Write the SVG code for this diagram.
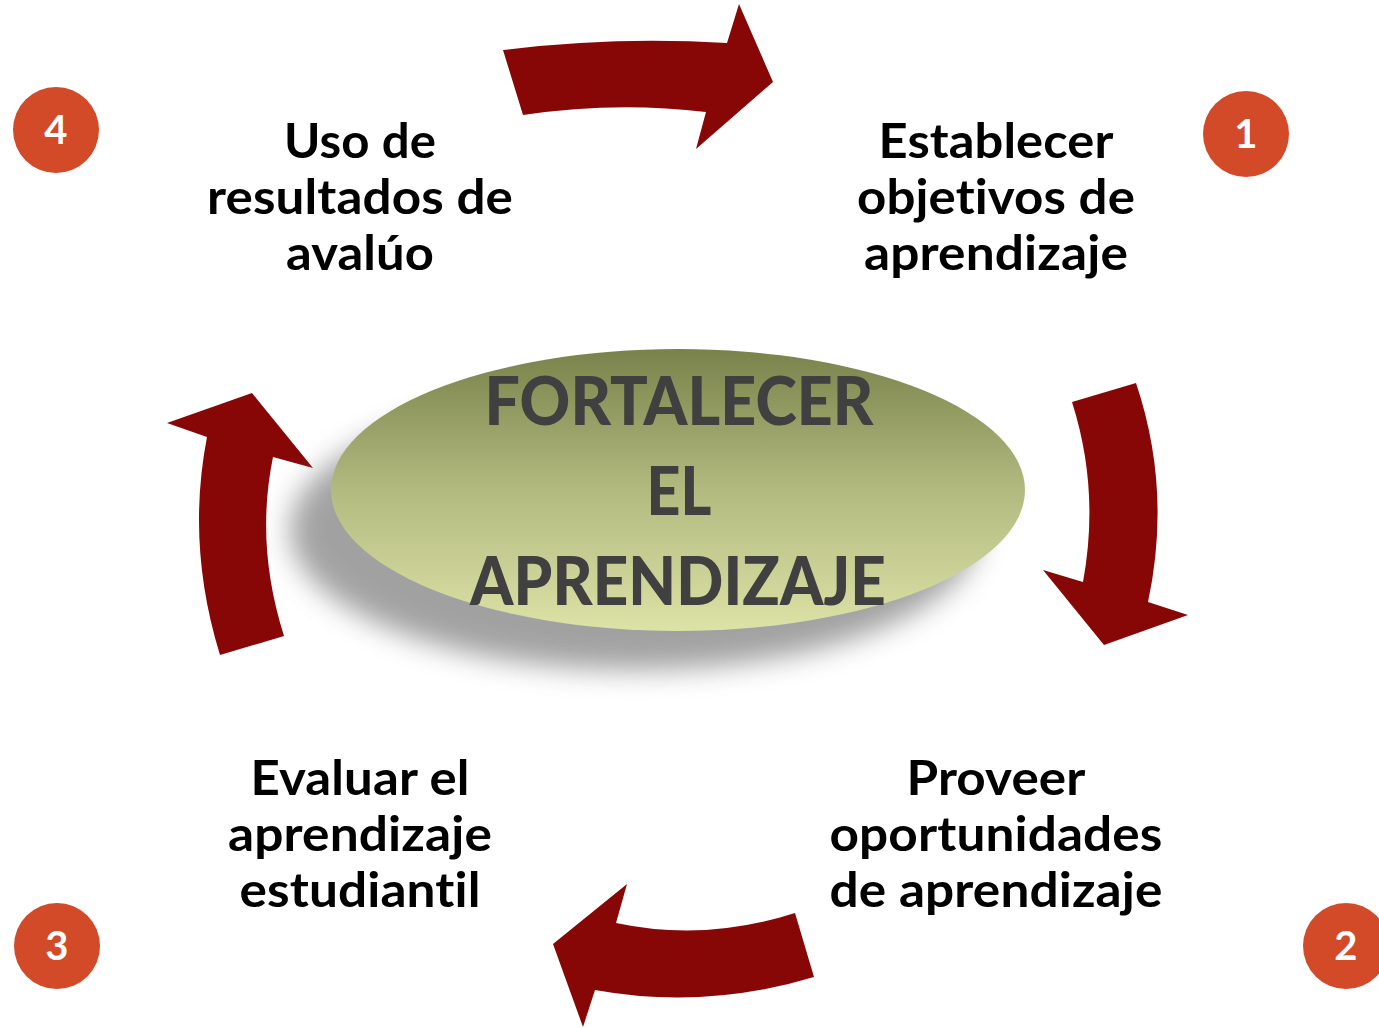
<svg xmlns="http://www.w3.org/2000/svg" width="1379" height="1028" viewBox="0 0 1379 1028">
<style>
text{font-variant-ligatures:none;font-feature-settings:"liga" 0,"clig" 0,"calt" 0,"dlig" 0;letter-spacing:0.1px}
.arrow{fill:#870707}
.badge{fill:#d24a28}
.num{font-family:Lato,"Open Sans",sans-serif;font-weight:bold;font-size:40px;fill:#ffffff;text-anchor:middle}
.lbl{font-family:Lato,"Open Sans",sans-serif;font-weight:bold;font-size:47px;fill:#000000;text-anchor:middle}
.ctr{font-family:Lato,"Open Sans",sans-serif;font-weight:900;font-size:66px;fill:#404040;text-anchor:middle}
</style>
<defs>
<linearGradient id="g" x1="0" y1="0" x2="0" y2="1">
<stop offset="0" stop-color="#79824a"/>
<stop offset="0.5" stop-color="#b2ba80"/>
<stop offset="1" stop-color="#dde2a6"/>
</linearGradient>
<filter id="blur" x="-20%" y="-30%" width="140%" height="160%">
<feGaussianBlur stdDeviation="14"/>
</filter>
</defs>
<rect width="1379" height="1028" fill="#ffffff"/>
<g id="connectors">
<path class="arrow" d="M503,50 Q615,36 727,43 L739,4 L773,82 L696,149 L706,112 Q615,101 523,115 Z"/>
<path class="arrow" d="M1072,402 L1136,383 Q1172,490 1148,602 L1188,615 L1104,645 L1043,570 L1083,582 Q1100,490 1072,402 Z"/>
<path class="arrow" d="M795,913 L814,977 Q705,1010 595,990 L583,1027 L553,944 L627,884 L616,923 Q705,942 795,913 Z"/>
<path class="arrow" d="M220,655 L284,636 Q255,545 273,457 L313,468 L252,393 L167,423 L207,437 Q186,545 220,655 Z"/>
</g>
<g id="center">
<ellipse cx="635" cy="530" rx="345" ry="140" fill="#7a7a7a" opacity="0.7" filter="url(#blur)"/>
<ellipse cx="678" cy="490" rx="347" ry="141" fill="url(#g)"/>
<text class="ctr" x="679" y="425" textLength="389" lengthAdjust="spacingAndGlyphs">FORTALECER</text>
<text class="ctr" x="679" y="515" textLength="65" lengthAdjust="spacingAndGlyphs">EL</text>
<text class="ctr" x="678" y="605" textLength="416" lengthAdjust="spacingAndGlyphs">APRENDIZAJE</text>
</g>
<g id="node1">
<circle class="badge" cx="1246" cy="134" r="43"/>
<text class="num" x="1246" y="148">1</text>
<text class="lbl" x="996" y="158" textLength="235" lengthAdjust="spacingAndGlyphs">Establecer</text>
<text class="lbl" x="996" y="214" textLength="278" lengthAdjust="spacingAndGlyphs">objetivos de</text>
<text class="lbl" x="996" y="270" textLength="264" lengthAdjust="spacingAndGlyphs">aprendizaje</text>
</g>
<g id="node2">
<circle class="badge" cx="1346" cy="946" r="43"/>
<text class="num" x="1346" y="960">2</text>
<text class="lbl" x="996" y="795" textLength="179" lengthAdjust="spacingAndGlyphs">Proveer</text>
<text class="lbl" x="996" y="851" textLength="333" lengthAdjust="spacingAndGlyphs">oportunidades</text>
<text class="lbl" x="996" y="907" textLength="333" lengthAdjust="spacingAndGlyphs">de aprendizaje</text>
</g>
<g id="node3">
<circle class="badge" cx="57" cy="946" r="43"/>
<text class="num" x="57" y="960">3</text>
<text class="lbl" x="360" y="795" textLength="219" lengthAdjust="spacingAndGlyphs">Evaluar el</text>
<text class="lbl" x="360" y="851" textLength="264" lengthAdjust="spacingAndGlyphs">aprendizaje</text>
<text class="lbl" x="360" y="907" textLength="241" lengthAdjust="spacingAndGlyphs">estudiantil</text>
</g>
<g id="node4">
<circle class="badge" cx="56" cy="130" r="43"/>
<text class="num" x="56" y="144">4</text>
<text class="lbl" x="360" y="158" textLength="152" lengthAdjust="spacingAndGlyphs">Uso de</text>
<text class="lbl" x="360" y="214" textLength="306" lengthAdjust="spacingAndGlyphs">resultados de</text>
<text class="lbl" x="360" y="270" textLength="148" lengthAdjust="spacingAndGlyphs">avalúo</text>
</g>
</svg>
